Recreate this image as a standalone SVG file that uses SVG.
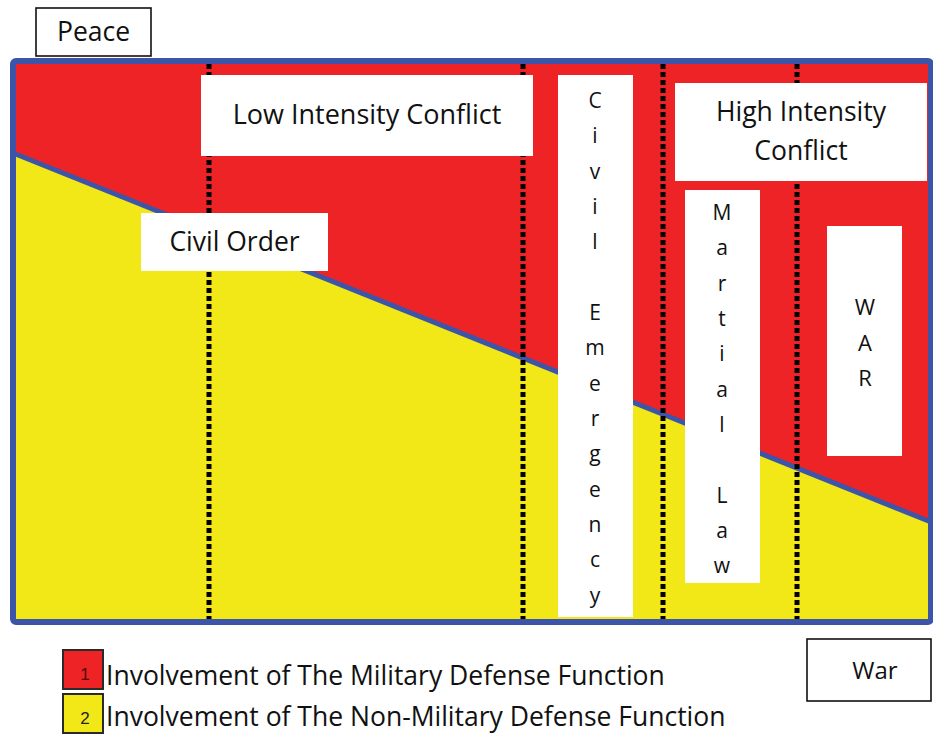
<svg xmlns="http://www.w3.org/2000/svg" width="933" height="735" viewBox="0 0 933 735">
<style>
.t{font-family:"Open Sans","Liberation Sans",sans-serif;fill:#111;font-size:26.5px;}
.box{fill:#fff;}
.lbl{fill:#fff;stroke:#111;stroke-width:1.6;}
.dot{stroke:#000;stroke-width:5;stroke-dasharray:5 3;fill:none;}
.v{font-family:"Open Sans","Liberation Sans",sans-serif;fill:#111;font-size:21px;text-anchor:middle;}
</style>
<rect width="933" height="735" fill="#fff"/>
<g id="chart">
<rect x="13" y="61" width="918" height="561" fill="#ee2326"/>
<polygon points="13,153 931,522 931,622 13,622" fill="#f2e818"/>
<line x1="13" y1="153" x2="931" y2="522" stroke="#3d55a8" stroke-width="5"/>
</g>
<g id="connectors">
<line class="dot" x1="209" y1="64" x2="209" y2="622"/>
<line class="dot" x1="523" y1="64" x2="523" y2="622"/>
<line class="dot" x1="663" y1="64" x2="663" y2="622"/>
<line class="dot" x1="797" y1="64" x2="797" y2="622"/>
</g>
<rect x="13" y="61" width="918" height="561" rx="3" fill="none" stroke="#3d55a8" stroke-width="6"/>
<g id="low">
<rect class="box" x="201" y="75" width="332" height="81"/>
<text class="t" x="367" y="124" style="font-size:27px" text-anchor="middle">Low Intensity Conflict</text>
</g>
<g id="civilorder">
<rect class="box" x="141" y="213" width="187" height="58"/>
<text class="t" x="234.5" y="251" text-anchor="middle">Civil Order</text>
</g>
<g id="civilemergency">
<rect class="box" x="558" y="75" width="75" height="542"/>
<text class="v"><tspan x="595" y="108">C</tspan><tspan x="595" y="143.3">i</tspan><tspan x="595" y="178.6">v</tspan><tspan x="595" y="214">i</tspan><tspan x="595" y="249.3">l</tspan><tspan x="595" y="320">E</tspan><tspan x="595" y="355.3">m</tspan><tspan x="595" y="390.6">e</tspan><tspan x="595" y="426">r</tspan><tspan x="595" y="461.3">g</tspan><tspan x="595" y="496.6">e</tspan><tspan x="595" y="532">n</tspan><tspan x="595" y="567.3">c</tspan><tspan x="595" y="602.6">y</tspan></text>
</g>
<g id="high">
<rect class="box" x="675" y="83" width="252" height="98"/>
<text class="t" text-anchor="middle"><tspan x="801" y="121">High Intensity</tspan><tspan x="801" y="160">Conflict</tspan></text>
</g>
<g id="martiallaw">
<rect class="box" x="685" y="190" width="75" height="393"/>
<text class="v"><tspan x="722" y="220">M</tspan><tspan x="722" y="255.3">a</tspan><tspan x="722" y="290.6">r</tspan><tspan x="722" y="326">t</tspan><tspan x="722" y="361.3">i</tspan><tspan x="722" y="396.6">a</tspan><tspan x="722" y="432">l</tspan><tspan x="722" y="502.6">L</tspan><tspan x="722" y="538">a</tspan><tspan x="722" y="573.3">w</tspan></text>
</g>
<g id="war">
<rect class="box" x="827" y="226" width="75" height="230"/>
<text class="v" style="font-size:22px"><tspan x="865" y="315">W</tspan><tspan x="865" y="350.5">A</tspan><tspan x="865" y="386">R</tspan></text>
</g>
<g id="peace">
<rect class="lbl" x="36" y="8" width="115" height="48"/>
<text class="t" x="93.5" y="41" text-anchor="middle">Peace</text>
</g>
<g id="warlabel">
<rect class="lbl" x="807" y="639" width="124" height="62"/>
<text class="t" x="875" y="679" style="font-size:24px" text-anchor="middle">War</text>
</g>
<g id="legend">
<rect x="63" y="650" width="40" height="39" fill="#ee2326" stroke="#2a2a2a" stroke-width="2"/>
<text x="85" y="680" font-family="Liberation Sans, sans-serif" font-size="17" fill="#4a0808" text-anchor="middle">1</text>
<rect x="63" y="694" width="40" height="39" fill="#f2e818" stroke="#2a2a2a" stroke-width="2"/>
<text x="85" y="724" font-family="Liberation Sans, sans-serif" font-size="17" fill="#222" text-anchor="middle">2</text>
<text class="t" x="106" y="685">Involvement of The Military Defense Function</text>
<text class="t" x="106" y="726">Involvement of The Non-Military Defense Function</text>
</g>
</svg>
